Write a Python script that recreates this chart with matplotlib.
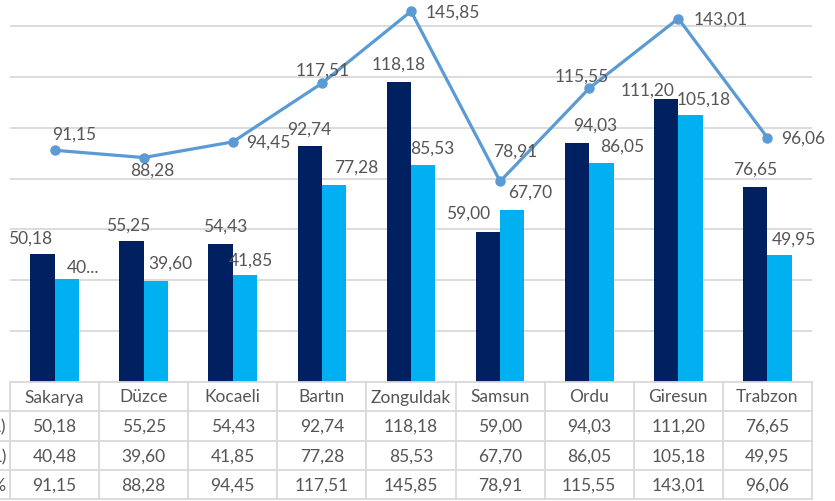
import matplotlib.pyplot as plt
import numpy as np

# veriler
cities = ["Sakarya", "Düzce", "Kocaeli", "Bartın", "Zonguldak",
          "Samsun", "Ordu", "Giresun", "Trabzon"]
series_names = ["Fiyat (TL)", "Maliyet (TL)", "Oran %"]
navy_vals = [50.18, 55.25, 54.43, 92.74, 118.18, 59.00, 94.03, 111.20, 76.65]
light_vals = [40.48, 39.60, 41.85, 77.28, 85.53, 67.70, 86.05, 105.18, 49.95]
line_vals = [91.15, 88.28, 94.45, 117.51, 145.85, 78.91, 115.55, 143.01, 96.06]

NAVY = "#002060"
LIGHT = "#00B0F0"
LINE = "#5B9BD5"
TEXT = "#555555"
GRID = "#D9D9D9"

plt.rcParams["font.family"] = ["Lato", "DejaVu Sans"]


def fmt(v):
    return f"{v:.2f}".replace(".", ",")


# etiket kaydırmaları (piksel, sağa / yukarı)
navy_off = [(-12, 17), (-3, 17), (5, 18), (0, 18), (0, 18),
            (-20, 19), (18, 18), (-19, 10), (0, 18)]
light_off = [(16, 12), (15, 19), (6, 16), (22, 19), (9, 17),
             (18, 18), (21, 18), (13, 16), (14, 16)]
line_off = [(20, 17), (9, -12), (36, 0), (1, 14), (42, 0),
            (15, 31), (-7, 13), (42, 0), (36, 0)]

W, H = 835, 502
fig = plt.figure(figsize=(W / 100, H / 100), dpi=100)
base = 382.8
ax = fig.add_axes([10 / W, (H - base) / H, 802 / W, base / H])

x = np.arange(len(cities))
bw = 0.273
ax.bar(x - bw / 2, navy_vals, width=bw, color=NAVY, zorder=2)
ax.bar(x + bw / 2, light_vals, width=bw, color=LIGHT, zorder=2)
ax.plot(x, line_vals, color=LINE, lw=2.3, marker="o", ms=6.5, zorder=3)

ax.set_xlim(-0.5, len(cities) - 0.5)
ax.set_ylim(0, 150.7)
ax.set_yticks(np.arange(20, 160, 20))
ax.grid(axis="y", color=GRID, lw=1.3, zorder=0)
ax.tick_params(left=False, bottom=False, labelleft=False, labelbottom=False)
for s in ax.spines.values():
    s.set_visible(False)

fs = 12.5
light_labels = [fmt(v) for v in light_vals]
light_labels[0] = "40..."
for i in range(len(cities)):
    ax.annotate(fmt(navy_vals[i]), (x[i] - bw / 2, navy_vals[i]),
                xytext=navy_off[i], textcoords="offset pixels",
                ha="center", va="center", fontsize=fs, color=TEXT, zorder=4)
    ax.annotate(light_labels[i], (x[i] + bw / 2, light_vals[i]),
                xytext=light_off[i], textcoords="offset pixels",
                ha="center", va="center", fontsize=fs, color=TEXT, zorder=4)
    ax.annotate(fmt(line_vals[i]), (x[i], line_vals[i]),
                xytext=line_off[i], textcoords="offset pixels",
                ha="center", va="center", fontsize=fs, color=TEXT, zorder=4)

# veri tablosu
tr = ax.get_xaxis_transform()
row_h = 29.4 / base
n = len(cities)
left_edge = -0.5
far_left = -2.0
ax.plot([left_edge, n - 0.5], [0, 0], transform=tr, color=GRID, lw=1.3,
        clip_on=False)
for r in range(1, 5):
    y = -r * row_h
    ax.plot([far_left, n - 0.5], [y, y], transform=tr, color=GRID, lw=1.3,
            clip_on=False)
for c in range(n + 1):
    ax.plot([c - 0.5, c - 0.5], [0, -4 * row_h], transform=tr, color=GRID,
            lw=1.3, clip_on=False)

rows = [navy_vals, light_vals, line_vals]
for i, city in enumerate(cities):
    ax.text(x[i], -0.5 * row_h, city, transform=tr, ha="center", va="center",
            fontsize=fs, color=TEXT, clip_on=False)
    for r, vals in enumerate(rows):
        ax.text(x[i], -(r + 1.5) * row_h, fmt(vals[i]), transform=tr,
                ha="center", va="center", fontsize=fs, color=TEXT,
                clip_on=False)
# satır adları: görüntünün sol kenarında kesik
for r, name in enumerate(series_names):
    ax.text(left_edge - 0.045, -(r + 1.5) * row_h, name, transform=tr,
            ha="right", va="center", fontsize=fs, color=TEXT, clip_on=False)

fig.savefig("out.png", dpi=100)
